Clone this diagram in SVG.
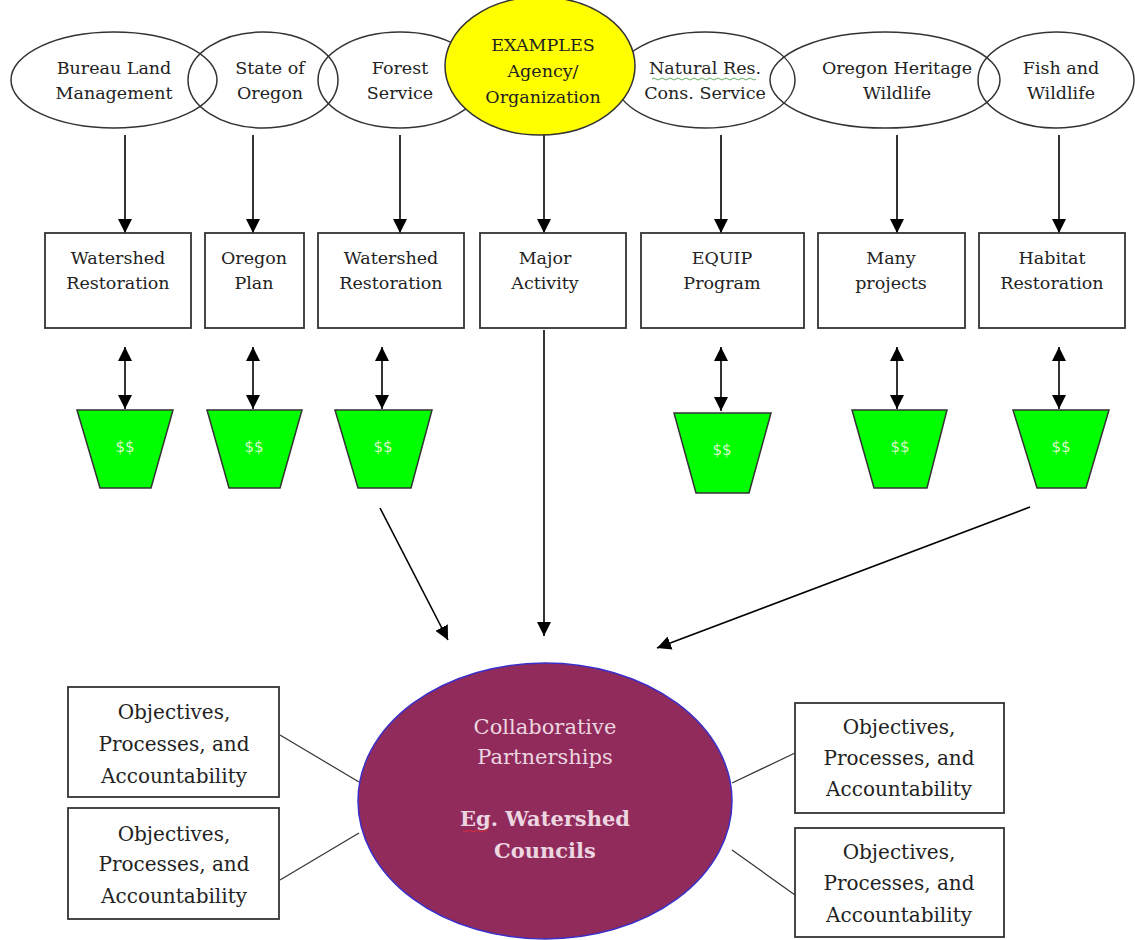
<svg xmlns="http://www.w3.org/2000/svg" width="1135" height="940" viewBox="0 0 1135 940">
<style>
.ell{fill:none;stroke:#333;stroke-width:1.5}
.box{fill:#fff;stroke:#333;stroke-width:1.8}
.t{font-family:"DejaVu Serif","Liberation Serif",serif;font-size:17.5px;fill:#222;text-anchor:middle}
.te{font-family:"DejaVu Serif","Liberation Serif",serif;font-size:17.5px;fill:#222;text-anchor:middle}
.tb{font-family:"DejaVu Serif","Liberation Serif",serif;font-size:20px;fill:#222;text-anchor:middle}
.pot{fill:#00ff00;stroke:#333;stroke-width:1.5}
.d{font-family:"DejaVu Sans","Liberation Sans",sans-serif;font-size:15px;fill:#d8f8c8;text-anchor:middle}
.ln{stroke:#000;stroke-width:1.6;fill:none}
.thin{stroke:#333;stroke-width:1.2;fill:none}
.ct{font-family:"DejaVu Serif","Liberation Serif",serif;font-size:21px;fill:#ecd6e0;text-anchor:middle}
</style>
<defs>
<marker id="ahb" viewBox="0 0 10 10" refX="10" refY="5" markerWidth="14" markerHeight="14" markerUnits="userSpaceOnUse" orient="auto-start-reverse">
<path d="M0,0 L10,5 L0,10 z" fill="#000"/>
</marker>
</defs>
<rect width="1135" height="940" fill="#fff"/>

<g id="connectors">
<line class="ln" x1="125" y1="135" x2="125" y2="233" marker-end="url(#ahb)"/>
<line class="ln" x1="253" y1="135" x2="253" y2="233" marker-end="url(#ahb)"/>
<line class="ln" x1="400" y1="135" x2="400" y2="233" marker-end="url(#ahb)"/>
<line class="ln" x1="544" y1="135" x2="544" y2="233" marker-end="url(#ahb)"/>
<line class="ln" x1="721" y1="135" x2="721" y2="233" marker-end="url(#ahb)"/>
<line class="ln" x1="897" y1="135" x2="897" y2="233" marker-end="url(#ahb)"/>
<line class="ln" x1="1059" y1="135" x2="1059" y2="233" marker-end="url(#ahb)"/>

<line class="ln" x1="125" y1="347" x2="125" y2="409" marker-start="url(#ahb)" marker-end="url(#ahb)"/>
<line class="ln" x1="253" y1="347" x2="253" y2="409" marker-start="url(#ahb)" marker-end="url(#ahb)"/>
<line class="ln" x1="382" y1="347" x2="382" y2="409" marker-start="url(#ahb)" marker-end="url(#ahb)"/>
<line class="ln" x1="721" y1="347" x2="721" y2="411" marker-start="url(#ahb)" marker-end="url(#ahb)"/>
<line class="ln" x1="897" y1="347" x2="897" y2="409" marker-start="url(#ahb)" marker-end="url(#ahb)"/>
<line class="ln" x1="1059" y1="347" x2="1059" y2="409" marker-start="url(#ahb)" marker-end="url(#ahb)"/>

<line class="ln" x1="380" y1="508" x2="448" y2="640" marker-end="url(#ahb)"/>
<line class="ln" x1="544" y1="330" x2="544" y2="636" marker-end="url(#ahb)"/>
<line class="ln" x1="1030" y1="507" x2="657" y2="648" marker-end="url(#ahb)"/>

<line class="thin" x1="280" y1="735" x2="359" y2="782"/>
<line class="thin" x1="280" y1="880" x2="359" y2="833"/>
<line class="thin" x1="732" y1="783" x2="795" y2="753"/>
<line class="thin" x1="732" y1="850" x2="795" y2="895"/>
</g>

<g id="agency-blm"><ellipse class="ell" cx="114" cy="80" rx="103" ry="48"/>
<text class="te" x="114" y="74">Bureau Land</text><text class="te" x="114" y="99">Management</text></g>
<g id="agency-state"><ellipse class="ell" cx="263" cy="80" rx="75" ry="48"/>
<text class="te" x="270" y="74">State of</text><text class="te" x="270" y="99">Oregon</text></g>
<g id="agency-forest"><ellipse class="ell" cx="400" cy="80" rx="82" ry="48"/>
<text class="te" x="400" y="74">Forest</text><text class="te" x="400" y="99">Service</text></g>
<g id="agency-nrcs"><ellipse class="ell" cx="705" cy="80" rx="90" ry="48"/>
<text class="te" x="705" y="74">Natural Res.</text><text class="te" x="705" y="99">Cons. Service</text>
<path d="M652,79 q2,-2 4,0 t4,0 t4,0 t4,0 t4,0 t4,0 t4,0 t4,0 t4,0 t4,0 t4,0 t4,0 t4,0 t4,0 t4,0 t4,0 t4,0 t4,0 t4,0 t4,0 t4,0 t4,0 t4,0 t4,0 t4,0 t4,0" fill="none" stroke="#3a9a3a" stroke-width="0.8"/></g>
<g id="agency-ohw"><ellipse class="ell" cx="885" cy="80" rx="115" ry="48"/>
<text class="te" x="897" y="74">Oregon Heritage</text><text class="te" x="897" y="99">Wildlife</text></g>
<g id="agency-fw"><ellipse class="ell" cx="1056" cy="80" rx="78" ry="48"/>
<text class="te" x="1061" y="74">Fish and</text><text class="te" x="1061" y="99">Wildlife</text></g>
<g id="agency-examples"><ellipse cx="540" cy="66" rx="95" ry="69" fill="#ffff00" stroke="#333" stroke-width="1.5"/>
<text class="te" x="543" y="51">EXAMPLES</text><text class="te" x="543" y="77">Agency/</text><text class="te" x="543" y="103">Organization</text></g>

<g id="act-1"><rect class="box" x="45" y="233" width="146" height="95"/>
<text class="t" x="118" y="264">Watershed</text><text class="t" x="118" y="289">Restoration</text></g>
<g id="act-2"><rect class="box" x="205" y="233" width="99" height="95"/>
<text class="t" x="254" y="264">Oregon</text><text class="t" x="254" y="289">Plan</text></g>
<g id="act-3"><rect class="box" x="318" y="233" width="146" height="95"/>
<text class="t" x="391" y="264">Watershed</text><text class="t" x="391" y="289">Restoration</text></g>
<g id="act-major"><rect class="box" x="480" y="233" width="146" height="95"/>
<text class="t" x="545" y="264">Major</text><text class="t" x="545" y="289">Activity</text></g>
<g id="act-equip"><rect class="box" x="641" y="233" width="163" height="95"/>
<text class="t" x="722" y="264">EQUIP</text><text class="t" x="722" y="289">Program</text></g>
<g id="act-many"><rect class="box" x="818" y="233" width="147" height="95"/>
<text class="t" x="891" y="264">Many</text><text class="t" x="891" y="289">projects</text></g>
<g id="act-habitat"><rect class="box" x="979" y="233" width="146" height="95"/>
<text class="t" x="1052" y="264">Habitat</text><text class="t" x="1052" y="289">Restoration</text></g>

<g id="fund-1"><polygon class="pot" points="77,410 173,410 151,488 100,488"/><text class="d" x="125" y="452">$$</text></g>
<g id="fund-2"><polygon class="pot" points="207,410 302,410 280,488 229,488"/><text class="d" x="254" y="452">$$</text></g>
<g id="fund-3"><polygon class="pot" points="335,410 432,410 411,488 358,488"/><text class="d" x="383" y="452">$$</text></g>
<g id="fund-4"><polygon class="pot" points="674,413 771,413 749,493 696,493"/><text class="d" x="722" y="455">$$</text></g>
<g id="fund-5"><polygon class="pot" points="852,410 947,410 927,488 874,488"/><text class="d" x="900" y="452">$$</text></g>
<g id="fund-6"><polygon class="pot" points="1013,410 1109,410 1086,488 1037,488"/><text class="d" x="1061" y="452">$$</text></g>

<g id="partnership"><ellipse cx="545" cy="801" rx="187" ry="138" fill="#912b5b" stroke="#3a2fc8" stroke-width="1.5"/>
<text class="ct" x="545" y="734">Collaborative</text><text class="ct" x="545" y="764">Partnerships</text>
<text class="ct" x="545" y="826" font-weight="bold">Eg. Watershed</text><text class="ct" x="545" y="858" font-weight="bold">Councils</text>
<path d="M463,831 q2,2 4,0 t4,0 t4,0 t4,0 t4,0 t4,0" fill="none" stroke="#e03030" stroke-width="1"/></g>

<g id="obj-1"><rect class="box" x="68" y="687" width="211" height="110"/>
<text class="tb" x="174" y="719">Objectives,</text><text class="tb" x="174" y="751">Processes, and</text><text class="tb" x="174" y="783">Accountability</text></g>
<g id="obj-2"><rect class="box" x="68" y="808" width="211" height="111"/>
<text class="tb" x="174" y="841">Objectives,</text><text class="tb" x="174" y="871">Processes, and</text><text class="tb" x="174" y="903">Accountability</text></g>
<g id="obj-3"><rect class="box" x="795" y="703" width="209" height="110"/>
<text class="tb" x="899" y="734">Objectives,</text><text class="tb" x="899" y="765">Processes, and</text><text class="tb" x="899" y="796">Accountability</text></g>
<g id="obj-4"><rect class="box" x="795" y="828" width="209" height="109"/>
<text class="tb" x="899" y="859">Objectives,</text><text class="tb" x="899" y="890">Processes, and</text><text class="tb" x="899" y="922">Accountability</text></g>
</svg>
